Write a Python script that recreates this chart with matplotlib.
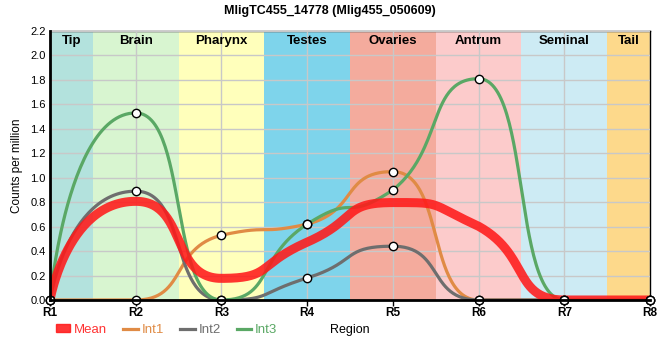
import numpy as np
import matplotlib
matplotlib.use("Agg")
import matplotlib.pyplot as plt
from matplotlib.lines import Line2D
from matplotlib.patches import Patch

regions = ["R1", "R2", "R3", "R4", "R5", "R6", "R7", "R8"]
mean = [0.0, 0.807, 0.177, 0.473, 0.797, 0.603, 0.0, 0.0]
int1 = [0.0, 0.0, 0.53, 0.62, 1.05, 0.0, 0.0, 0.0]
int2 = [0.0, 0.89, 0.0, 0.18, 0.44, 0.0, 0.0, 0.0]
int3 = [0.0, 1.53, 0.0, 0.62, 0.90, 1.81, 0.0, 0.0]

tissues = ["Tip", "Brain", "Pharynx", "Testes", "Ovaries", "Antrum", "Seminal", "Tail"]
tissue_colors = ["#b3e2dd", "#d8f5d0", "#ffffbb", "#7ed4eb", "#f4ab9d",
                 "#fccbcb", "#cdebf4", "#fdd98b"]


def smooth_curve(x, y, n=60, k_mid=0.6, k_end=0.8):
    # bezier through the points, monotone (Steffen) tangents, long handles
    x = np.asarray(x, float)
    y = np.asarray(y, float)
    npts = len(x)
    h = np.diff(x)
    s = np.diff(y) / h
    m = np.zeros(npts)
    for i in range(1, npts - 1):
        p = (s[i - 1] * h[i] + s[i] * h[i - 1]) / (h[i - 1] + h[i])
        m[i] = (np.sign(s[i - 1]) + np.sign(s[i])) * min(abs(s[i - 1]), abs(s[i]), 0.5 * abs(p))
    xs, ys = [], []
    for i in range(npts - 1):
        dx = h[i]
        if i == 0:
            a = 0.0
        elif i + 1 == npts - 1:
            a = k_end
        else:
            a = k_mid
        if i + 1 == npts - 1:
            b = 0.0
        elif i == 0:
            b = k_end
        else:
            b = k_mid
        lo, hi = min(y[i], y[i + 1]), max(y[i], y[i + 1])
        c0x, c0y = x[i] + a * dx, np.clip(y[i] + m[i] * a * dx, lo, hi)
        c1x, c1y = x[i + 1] - b * dx, np.clip(y[i + 1] - m[i + 1] * b * dx, lo, hi)
        u = np.linspace(0, 1, n)
        w0, w1, w2, w3 = (1 - u)**3, 3 * (1 - u)**2 * u, 3 * (1 - u) * u**2, u**3
        xs.append(w0 * x[i] + w1 * c0x + w2 * c1x + w3 * x[i + 1])
        ys.append(w0 * y[i] + w1 * c0y + w2 * c1y + w3 * y[i + 1])
    return np.concatenate(xs), np.concatenate(ys)


plt.rcParams['font.family'] = ['Liberation Sans', 'DejaVu Sans']
fig = plt.figure(figsize=(6.6, 3.6), dpi=100)
ax = fig.add_axes([50 / 660, 60 / 360, 600 / 660, 269 / 360])

xpos = np.arange(len(regions))
last = len(regions) - 1
for i, (name, c) in enumerate(zip(tissues, tissue_colors)):
    x0, x1 = max(i - 0.5, 0), min(i + 0.5, last)
    ax.axvspan(x0, x1, color=c, lw=0, zorder=0)
    ax.text((x0 + x1) / 2, 2.12, name, ha='center', va='center', fontsize=9.5,
            fontweight='bold', zorder=5)

ax.set_xlim(0, last)
ax.set_ylim(0, 2.2)
yt = np.arange(0, 2.21, 0.2)
ax.set_yticks(yt)
ax.set_yticklabels([f"{v:.1f}" for v in yt], fontsize=8)
ax.set_xticks(xpos)
ax.set_xticklabels(regions, fontsize=8.5, fontweight='bold')
ax.grid(True, color='#c8c8c8', lw=1)
ax.set_axisbelow(False)
ax.tick_params(axis='x', length=4, width=1, pad=1)
ax.tick_params(axis='y', length=0, pad=3)

series = [("Int1", int1, "#e08b45"), ("Int2", int2, "#6e6e6e"), ("Int3", int3, "#5aa865")]
for name, vals, c in series:
    sx, sy = smooth_curve(xpos, vals)
    ax.plot(sx, sy, color=c, lw=2.3, zorder=3, solid_capstyle='round')

mx, my = smooth_curve(xpos, mean)
ax.plot(mx, my, color='#ff1a1a', lw=6.5, alpha=0.88, zorder=4, solid_capstyle='butt')

for name, vals, c in series:
    ax.plot(xpos, vals, ls='none', marker='o', ms=6, mfc='white', mec='black',
            mew=1, zorder=4.5, clip_on=False)

for side in ['top', 'right']:
    ax.spines[side].set_linewidth(1)
for side in ['left', 'bottom']:
    ax.spines[side].set_linewidth(2)
    ax.spines[side].set_zorder(5)

ax.set_ylabel("Counts per million", fontsize=8.5, labelpad=5)
ax.set_xlabel("Region", fontsize=9, labelpad=4)

fig.suptitle("MligTC455_14778 (Mlig455_050609)", fontsize=9, fontweight='bold',
             x=0.5, y=0.985)

handles = [Patch(color='#ff1a1a', alpha=0.88, label='Mean')]
for name, vals, c in series:
    handles.append(Line2D([0], [0], color=c, lw=2.3, label=name))
fig.legend(handles=handles, loc='center left', bbox_to_anchor=(44 / 660, 1 - 330 / 360),
           ncol=4, frameon=False, fontsize=9.5, handlelength=1.1, handleheight=0.55,
           handletextpad=0.3, columnspacing=1.2,
           labelcolor=['#ff3333', '#e08b45', '#6e6e6e', '#5aa865'])

fig.savefig("out.png", dpi=100)
